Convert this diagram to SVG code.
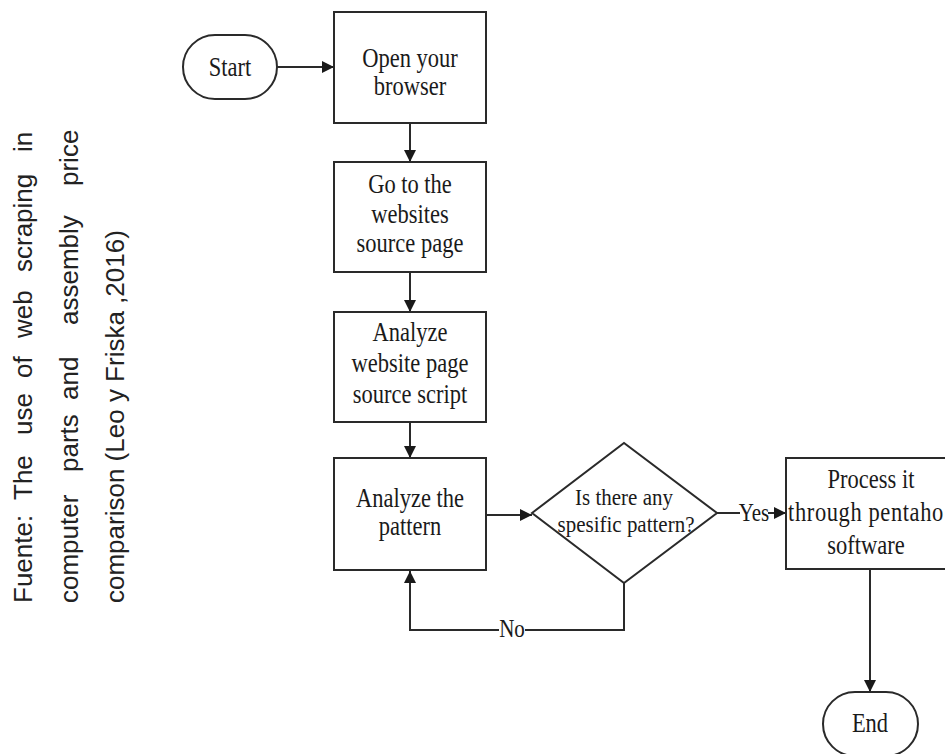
<svg xmlns="http://www.w3.org/2000/svg" width="945" height="754" viewBox="0 0 945 754">
<style>
.box{fill:#fff;stroke:#2a2a2a;stroke-width:2}
.conn{fill:none;stroke:#2a2a2a;stroke-width:2}
.t{font-family:"Liberation Serif","Times New Roman",serif;font-size:22.5px;fill:#1a1a1a;text-anchor:middle}
.s{font-size:21px}
.side{font-family:"Liberation Sans",Arial,sans-serif;font-size:26px;fill:#222}
</style>
<defs>
<marker id="arr" markerUnits="userSpaceOnUse" markerWidth="12" markerHeight="12" refX="12" refY="6" orient="auto">
<path d="M0,0 L12,6 L0,12 z" fill="#1a1a1a"/>
</marker>
</defs>
<rect width="945" height="754" fill="#fff"/>

<g id="caption">
<g transform="translate(32,0) rotate(-90)">
<text class="side" y="0"><tspan x="-603">Fuente:</tspan><tspan x="-500">The</tspan><tspan x="-435">use</tspan><tspan x="-378">of</tspan><tspan x="-338">web</tspan><tspan x="-272">scraping</tspan><tspan x="-152">in</tspan></text>
</g>
<g transform="translate(78,0) rotate(-90)">
<text class="side" y="0"><tspan x="-603">computer</tspan><tspan x="-472">parts</tspan><tspan x="-400">and</tspan><tspan x="-325">assembly</tspan><tspan x="-186">price</tspan></text>
</g>
<g transform="translate(124,0) rotate(-90)">
<text class="side" x="-603" y="0">comparison (Leo y Friska ,2016)</text>
</g>
</g>

<g id="connectors">
<path class="conn" d="M277,67 L334,67" marker-end="url(#arr)"/>
<path class="conn" d="M410,123 L410,162" marker-end="url(#arr)"/>
<path class="conn" d="M410,272 L410,312" marker-end="url(#arr)"/>
<path class="conn" d="M410,422 L410,458" marker-end="url(#arr)"/>
<path class="conn" d="M486,515 L532,515" marker-end="url(#arr)"/>
<path class="conn" d="M717,513 L740,513"/>
<path class="conn" d="M768,513 L786,513" marker-end="url(#arr)"/>
<text class="t s" transform="translate(754,521) scale(1,1.2)">Yes</text>
<path class="conn" d="M624,583 L624,630 L525,630"/>
<path class="conn" d="M499,630 L410,630 L410,571" marker-end="url(#arr)"/>
<text class="t s" transform="translate(512,637) scale(1,1.2)">No</text>
<path class="conn" d="M870,569 L870,692" marker-end="url(#arr)"/>
</g>

<g id="start">
<rect class="box" x="183" y="35" width="94" height="64" rx="32"/>
<text class="t" transform="translate(230,76) scale(1,1.2)">Start</text>
</g>

<g id="open-browser">
<rect class="box" x="334" y="12" width="152" height="111"/>
<text class="t" transform="translate(410,67) scale(1,1.2)">Open your</text>
<text class="t" transform="translate(410,95) scale(1,1.2)">browser</text>
</g>

<g id="go-source">
<rect class="box" x="334" y="162" width="152" height="110"/>
<text class="t" transform="translate(410,193) scale(1,1.2)">Go to the</text>
<text class="t" transform="translate(410,223) scale(1,1.2)">websites</text>
<text class="t" transform="translate(410,252) scale(1,1.2)">source page</text>
</g>

<g id="analyze-source">
<rect class="box" x="334" y="312" width="152" height="110"/>
<text class="t" transform="translate(410,341) scale(1,1.2)">Analyze</text>
<text class="t" transform="translate(410,372) scale(1,1.2)">website page</text>
<text class="t" transform="translate(410,403) scale(1,1.2)">source script</text>
</g>

<g id="analyze-pattern">
<rect class="box" x="334" y="458" width="152" height="112"/>
<text class="t" transform="translate(410,507) scale(1,1.2)">Analyze the</text>
<text class="t" transform="translate(410,535) scale(1,1.2)">pattern</text>
</g>

<g id="decision">
<polygon class="box" points="532,513 624,443 717,513 624,583"/>
<text class="t s" transform="translate(624,505) scale(1,1.1)">Is there any</text>
<text class="t s" transform="translate(626,532) scale(1,1.1)">spesific pattern?</text>
</g>

<g id="process">
<rect class="box" x="786" y="458" width="170" height="111"/>
<text class="t" transform="translate(871,488) scale(1,1.2)">Process it</text>
<text class="t" transform="translate(866,521) scale(1,1.2)" letter-spacing="0.6">through pentaho</text>
<text class="t" transform="translate(866,554) scale(1,1.2)">software</text>
</g>

<g id="end">
<rect class="box" x="823" y="692" width="95" height="64" rx="32"/>
<text class="t" transform="translate(870,732) scale(1,1.2)">End</text>
</g>
</svg>
